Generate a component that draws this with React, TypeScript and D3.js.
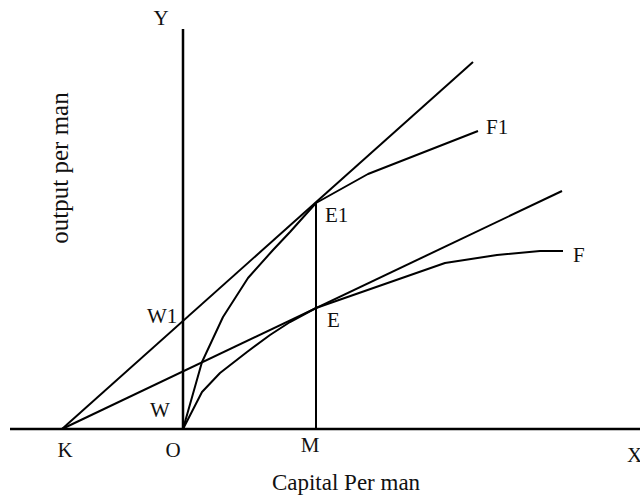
import React from "react";
import * as d3 from "d3";

// Data (in diagram units: capital per man on x, output per man on y)
const originX = 0;
const kPoint: [number, number] = [-12.1, 0];
const mValue = 13.3;
const eValue = 12.1;
const e1Value = 22.65;
const line1End: [number, number] = [29.0, 36.7];
const line2End: [number, number] = [37.9, 23.8];
const curveF1: [number, number][] = [
  [0, 0], [1.9, 6.7], [4.0, 11.2], [6.5, 15.1], [9.0, 17.9], [10.7, 19.7],
  [13.3, 22.6], [18.5, 25.5], [29.5, 29.8],
];
const curveF: [number, number][] = [
  [0, 0], [1.9, 3.7], [3.7, 5.6], [6.4, 7.7], [8.7, 9.4], [10.7, 10.7],
  [13.3, 12.1], [26.2, 16.6], [31.4, 17.4], [35.7, 17.8], [38.0, 17.8],
];
const xDomain: [number, number] = [-17.3, 45.7];
const yDomain: [number, number] = [0, 40];

const W = 640;
const H = 495;

export default function App() {
  const x = d3.scaleLinear().domain(xDomain).range([10, 640]);
  const y = d3.scaleLinear().domain(yDomain).range([429, 29]);
  const line = d3.line<[number, number]>().x((d) => x(d[0])).y((d) => y(d[1])).curve(d3.curveLinear);

  const font = "'Liberation Serif', 'Times New Roman', Times, serif";
  const lab = 21;
  const stroke = "#000";

  return (
    <svg
      width={W}
      height={H}
      style={{ position: "absolute", left: 0, top: 0, background: "#fff" }}
      fontFamily={font}
    >
      {/* axes */}
      <line x1={x(xDomain[0])} x2={x(xDomain[1])} y1={y(0)} y2={y(0)} stroke={stroke} strokeWidth={2.5} />
      <line x1={x(originX)} x2={x(originX)} y1={y(0)} y2={y(yDomain[1])} stroke={stroke} strokeWidth={2.5} />
      {/* M vertical */}
      <line x1={x(mValue)} x2={x(mValue)} y1={y(0)} y2={y(e1Value)} stroke={stroke} strokeWidth={2} />
      {/* rays from K */}
      <path d={line([kPoint, line1End]) || ""} fill="none" stroke={stroke} strokeWidth={2} />
      <path d={line([kPoint, line2End]) || ""} fill="none" stroke={stroke} strokeWidth={2} />
      {/* production curves */}
      <path d={line(curveF1) || ""} fill="none" stroke={stroke} strokeWidth={2} strokeLinejoin="round" />
      <path d={line(curveF) || ""} fill="none" stroke={stroke} strokeWidth={2} strokeLinejoin="round" />

      {/* labels */}
      <g fontSize={lab} fill="#111">
        <text x={x(originX) - 22} y={25} textAnchor="middle">Y</text>
        <text x={627} y={462}>X</text>
        <text x={x(kPoint[0]) + 3} y={457} textAnchor="middle">K</text>
        <text x={x(originX) - 10} y={457} textAnchor="middle">O</text>
        <text x={x(mValue) - 6} y={452} textAnchor="middle">M</text>
        <text x={x(originX) - 36} y={323}>W1</text>
        <text x={x(originX) - 33} y={417}>W</text>
        <text x={x(mValue) + 9} y={222}>E1</text>
        <text x={x(mValue) + 11} y={327}>E</text>
        <text x={x(curveF1[curveF1.length - 1][0]) + 8} y={134}>F1</text>
        <text x={x(curveF[curveF.length - 1][0]) + 10} y={262}>F</text>
      </g>
      <text x={346} y={490} textAnchor="middle" fontSize={23} fill="#111">Capital Per man</text>
      <text transform="translate(68,168) rotate(-90)" textAnchor="middle" fontSize={25} fill="#111">output per man</text>
    </svg>
  );
}
